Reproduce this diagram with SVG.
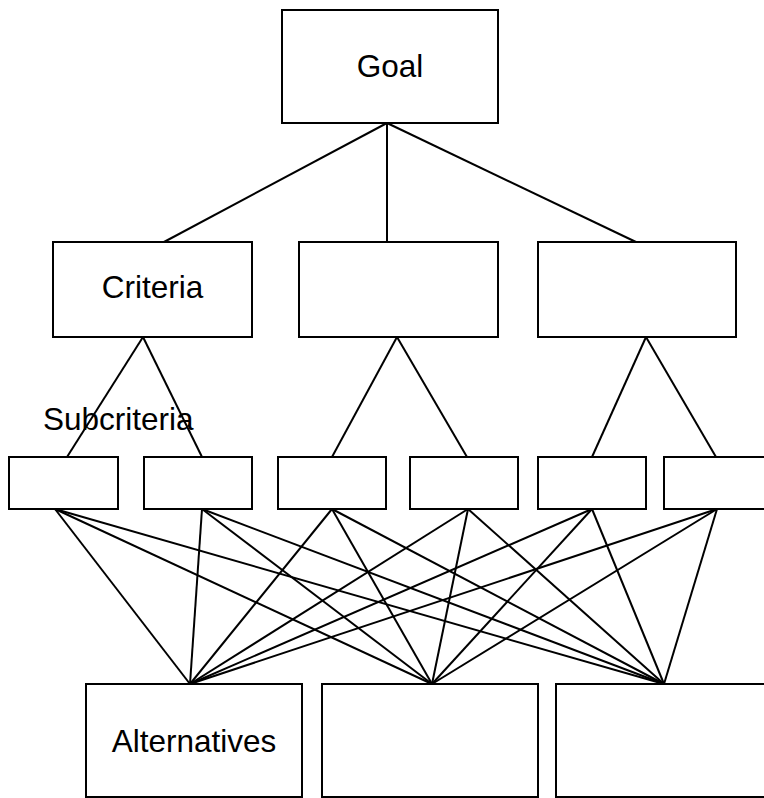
<svg xmlns="http://www.w3.org/2000/svg" width="764" height="798" viewBox="0 0 764 798">
  <style>
    .box { fill: #ffffff; stroke: #000000; stroke-width: 2; }
    .edge { stroke: #000000; stroke-width: 2; fill: none; }
    .label { font-family: "Liberation Sans", Arial, sans-serif; font-size: 31.5px; fill: #000000; }
  </style>
  <rect x="0" y="0" width="764" height="798" fill="#ffffff"/>

  <!-- connectors -->
  <g id="connectors">
    <!-- goal to criteria -->
    <line class="edge" x1="387" y1="123" x2="164" y2="242"/>
    <line class="edge" x1="387" y1="123" x2="387" y2="242"/>
    <line class="edge" x1="387" y1="123" x2="636" y2="242"/>
    <!-- criteria to subcriteria -->
    <line class="edge" x1="143" y1="337" x2="67" y2="457"/>
    <line class="edge" x1="143" y1="337" x2="202" y2="457"/>
    <line class="edge" x1="397" y1="337" x2="332" y2="457"/>
    <line class="edge" x1="397" y1="337" x2="467" y2="457"/>
    <line class="edge" x1="646" y1="337" x2="592" y2="457"/>
    <line class="edge" x1="646" y1="337" x2="716" y2="457"/>
    <!-- subcriteria to alternatives -->
    <line class="edge" x1="55" y1="509" x2="190" y2="684"/>
    <line class="edge" x1="55" y1="509" x2="432" y2="684"/>
    <line class="edge" x1="55" y1="509" x2="664" y2="684"/>
    <line class="edge" x1="202" y1="509" x2="190" y2="684"/>
    <line class="edge" x1="202" y1="509" x2="432" y2="684"/>
    <line class="edge" x1="202" y1="509" x2="664" y2="684"/>
    <line class="edge" x1="332" y1="509" x2="190" y2="684"/>
    <line class="edge" x1="332" y1="509" x2="432" y2="684"/>
    <line class="edge" x1="332" y1="509" x2="664" y2="684"/>
    <line class="edge" x1="468" y1="509" x2="190" y2="684"/>
    <line class="edge" x1="468" y1="509" x2="432" y2="684"/>
    <line class="edge" x1="468" y1="509" x2="664" y2="684"/>
    <line class="edge" x1="592" y1="509" x2="190" y2="684"/>
    <line class="edge" x1="592" y1="509" x2="432" y2="684"/>
    <line class="edge" x1="592" y1="509" x2="664" y2="684"/>
    <line class="edge" x1="717" y1="509" x2="190" y2="684"/>
    <line class="edge" x1="717" y1="509" x2="432" y2="684"/>
    <line class="edge" x1="717" y1="509" x2="664" y2="684"/>
  </g>

  <!-- goal -->
  <g id="goal">
    <rect class="box" x="282" y="10" width="216" height="113"/>
    <text class="label" x="390" y="77" text-anchor="middle">Goal</text>
  </g>

  <!-- criteria -->
  <g id="criteria-1">
    <rect class="box" x="53" y="242" width="199" height="95"/>
    <text class="label" x="152.5" y="298" text-anchor="middle">Criteria</text>
  </g>
  <g id="criteria-2">
    <rect class="box" x="299" y="242" width="199" height="95"/>
  </g>
  <g id="criteria-3">
    <rect class="box" x="538" y="242" width="198" height="95"/>
  </g>

  <!-- subcriteria -->
  <g id="subcriteria-label">
    <text class="label" x="43" y="430">Subcriteria</text>
  </g>
  <g id="subcriteria-1"><rect class="box" x="9" y="457" width="109" height="52"/></g>
  <g id="subcriteria-2"><rect class="box" x="144" y="457" width="108" height="52"/></g>
  <g id="subcriteria-3"><rect class="box" x="278" y="457" width="108" height="52"/></g>
  <g id="subcriteria-4"><rect class="box" x="410" y="457" width="108" height="52"/></g>
  <g id="subcriteria-5"><rect class="box" x="538" y="457" width="108" height="52"/></g>
  <g id="subcriteria-6"><rect class="box" x="664" y="457" width="108" height="52"/></g>

  <!-- alternatives -->
  <g id="alternative-1">
    <rect class="box" x="86" y="684" width="216" height="113"/>
    <text class="label" x="194" y="752" text-anchor="middle">Alternatives</text>
  </g>
  <g id="alternative-2">
    <rect class="box" x="322" y="684" width="216" height="113"/>
  </g>
  <g id="alternative-3">
    <rect class="box" x="556" y="684" width="216" height="113"/>
  </g>
</svg>
